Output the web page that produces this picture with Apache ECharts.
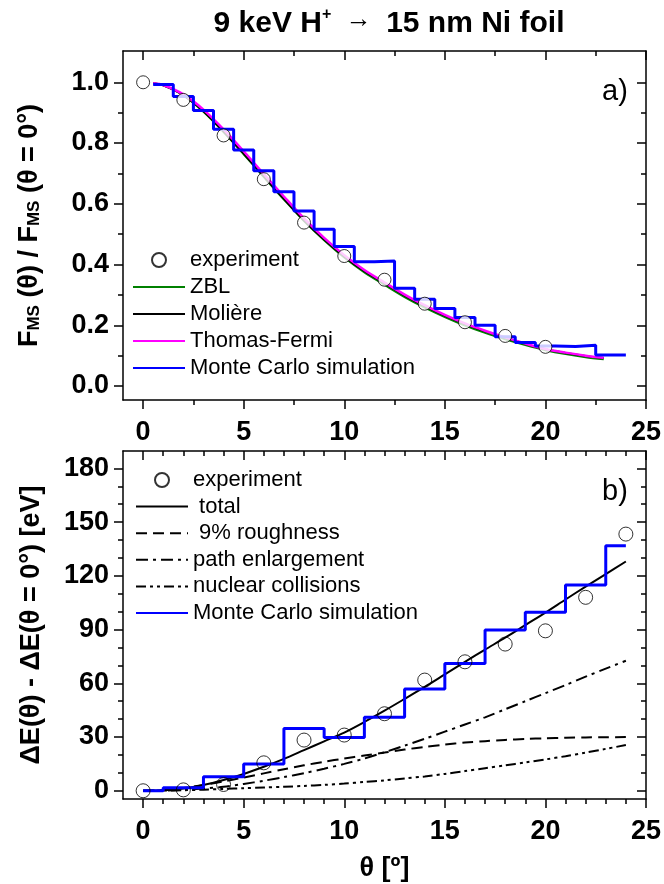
<!DOCTYPE html>
<html>
<head>
<meta charset="utf-8">
<script src="https://cdn.jsdelivr.net/npm/echarts@6/dist/echarts.min.js"></script>
<style>html,body{margin:0;padding:0;background:#fff;}#c{width:664px;height:884px;}</style>
</head>
<body>
<div id="c"></div>
<script>
// ---------- Panel a) data ----------
const thetaExpA = [0, 2, 4, 6, 8, 10, 12, 14, 16, 18, 20];
const fmsExp = [1.0, 0.942, 0.825, 0.681, 0.538, 0.428, 0.350, 0.271, 0.210, 0.165, 0.129];
const thetaCurveA = [0.5, 1, 2, 3, 4, 5, 6, 7, 8, 9, 10, 11, 12, 13, 14, 15, 16, 17, 18, 19, 20, 21, 22, 22.9];
const fmsZBL = [0.997, 0.990, 0.957, 0.903, 0.836, 0.763, 0.688, 0.614, 0.543, 0.480, 0.423, 0.374, 0.333, 0.293, 0.258, 0.227, 0.199, 0.175, 0.154, 0.135, 0.118, 0.105, 0.095, 0.088];
const fmsMoliere = [0.997, 0.990, 0.958, 0.905, 0.838, 0.765, 0.690, 0.616, 0.545, 0.482, 0.426, 0.378, 0.338, 0.298, 0.263, 0.232, 0.204, 0.180, 0.159, 0.139, 0.121, 0.109, 0.099, 0.092];
const fmsTF = [0.997, 0.991, 0.960, 0.910, 0.845, 0.773, 0.698, 0.624, 0.552, 0.488, 0.431, 0.382, 0.341, 0.301, 0.266, 0.234, 0.206, 0.182, 0.160, 0.140, 0.122, 0.110, 0.100, 0.093];
const mcEdgesA = [0.5, 1.5, 2.5, 3.5, 4.5, 5.5, 6.5, 7.5, 8.5, 9.5, 10.5, 11.5, 12.5, 13.5, 14.5, 15.5, 16.5, 17.5, 18.5, 19.5, 20.5, 21.5, 22.5, 24];
const mcValuesA = [0.993, 0.953, 0.907, 0.845, 0.777, 0.709, 0.640, 0.576, 0.516, 0.459, 0.409, 0.412, 0.322, 0.286, 0.255, 0.226, 0.200, 0.162, 0.143, 0.132, 0.130, 0.134, 0.102];

// ---------- Panel b) data ----------
const thetaExpB = [0, 2, 4, 6, 8, 10, 12, 14, 16, 18, 20, 22, 24];
const dEexp = [0, 0.5, 3.5, 15.6, 28.3, 31.1, 43.0, 61.8, 72.0, 81.9, 89.3, 108.0, 143.3];
const thetaCurveB = [0, 1, 2, 3, 4, 5, 6, 7, 8, 9, 10, 11, 12, 13, 14, 15, 16, 17, 18, 19, 20, 21, 22, 23, 24];
const dEtotal = [0, 0.3, 1.3, 3.2, 6.0, 9.4, 13.4, 17.8, 22.7, 27.6, 32.5, 38.4, 44.7, 51.3, 58.0, 65.0, 72.0, 78.8, 85.5, 92.5, 99.5, 106.8, 114.0, 121.0, 128.0];
const dEroughness = [0, 0.4, 1.5, 3.2, 5.2, 7.4, 9.7, 12.0, 14.2, 16.2, 18.0, 19.7, 21.3, 23.0, 24.5, 25.8, 26.9, 27.7, 28.4, 28.9, 29.3, 29.6, 29.8, 29.9, 30.0];
const dEpath = [0, 0.1, 0.5, 1.2, 2.2, 3.8, 5.6, 7.6, 9.8, 12.3, 15.0, 18.0, 21.5, 25.2, 29.0, 33.0, 37.0, 41.0, 45.5, 50.0, 54.5, 59.0, 63.7, 68.2, 72.6];
const dEnuclear = [0, 0.1, 0.3, 0.6, 1.0, 1.4, 1.8, 2.2, 2.7, 3.3, 4.0, 4.9, 5.8, 6.9, 8.0, 9.4, 11.0, 12.6, 14.2, 15.8, 17.5, 19.3, 21.3, 23.4, 25.5];
const mcEdgesB = [0, 1, 3, 5, 7, 9, 11, 13, 15, 17, 19, 21, 23, 24];
const mcValuesB = [0, 1.7, 7.8, 14.9, 34.8, 29.8, 41.0, 56.8, 71.1, 89.7, 99.6, 114.9, 136.8];

// ---------- Tick values ----------
const xMajor = [0, 5, 10, 15, 20, 25];
const xMinorA = [2.5, 7.5, 12.5, 17.5, 22.5];
const xMinorB = [1, 2, 3, 4, 6, 7, 8, 9, 11, 12, 13, 14, 16, 17, 18, 19, 21, 22, 23, 24];
const yMajorA = [0, 0.2, 0.4, 0.6, 0.8, 1.0];
const yMinorA = [0.1, 0.3, 0.5, 0.7, 0.9];
const yMajorB = [0, 30, 60, 90, 120, 150, 180];
const yMinorB = [10, 20, 40, 50, 70, 80, 100, 110, 130, 140, 160, 170];

const FONT = "'Liberation Sans', Arial, sans-serif";
const pairs = (xs, ys) => ys.map((y, i) => [xs[i], y]);
const stairs = (edges, vals) => {
  const d = vals.map((v, i) => [edges[i], v]);
  d.push([edges[edges.length - 1], vals[vals.length - 1]]);
  return d;
};

function xAxes(grid, minor, extra) {
  const base = {gridIndex: grid, type: 'value', min: -1, max: 25, splitLine: {show: false}};
  const line = {show: true, onZero: false, lineStyle: {color: '#000', width: 1.5}};
  return [
    Object.assign({}, base, {position: 'bottom', axisLine: line,
      axisTick: {show: true, inside: false, length: 9, customValues: xMajor, lineStyle: {color: '#000', width: 1.5}},
      axisLabel: {show: true, customValues: xMajor, margin: 19, color: '#000', fontSize: 27, fontWeight: 'bold', fontFamily: FONT}}, extra || {}),
    Object.assign({}, base, {position: 'bottom', axisLine: {show: false, onZero: false},
      axisTick: {show: true, inside: false, length: 5, customValues: minor, lineStyle: {color: '#000', width: 1.5}},
      axisLabel: {show: false}}),
    Object.assign({}, base, {position: 'top', axisLine: line,
      axisTick: {show: true, inside: true, length: 9, customValues: xMajor, lineStyle: {color: '#000', width: 1.5}},
      axisLabel: {show: false}}),
    Object.assign({}, base, {position: 'top', axisLine: {show: false, onZero: false},
      axisTick: {show: true, inside: true, length: 5, customValues: minor, lineStyle: {color: '#000', width: 1.5}},
      axisLabel: {show: false}})
  ];
}
function yAxes(grid, min, max, major, minor, fmt, extra) {
  const base = {gridIndex: grid, type: 'value', min: min, max: max, splitLine: {show: false}};
  const line = {show: true, onZero: false, lineStyle: {color: '#000', width: 1.5}};
  return [
    Object.assign({}, base, {position: 'left', axisLine: line,
      axisTick: {show: true, inside: false, length: 9, customValues: major, lineStyle: {color: '#000', width: 1.5}},
      axisLabel: {show: true, customValues: major, formatter: fmt, margin: 14, color: '#000', fontSize: 27, fontWeight: 'bold', fontFamily: FONT}}, extra),
    Object.assign({}, base, {position: 'left', axisLine: {show: false, onZero: false},
      axisTick: {show: true, inside: false, length: 5, customValues: minor, lineStyle: {color: '#000', width: 1.5}},
      axisLabel: {show: false}}),
    Object.assign({}, base, {position: 'right', axisLine: line,
      axisTick: {show: true, inside: true, length: 9, customValues: major, lineStyle: {color: '#000', width: 1.5}},
      axisLabel: {show: false}}),
    Object.assign({}, base, {position: 'right', axisLine: {show: false, onZero: false},
      axisTick: {show: true, inside: true, length: 5, customValues: minor, lineStyle: {color: '#000', width: 1.5}},
      axisLabel: {show: false}})
  ];
}

const titleRich = {
  t: {fontSize: 30, fontWeight: 'bold', fontFamily: FONT, color: '#000', lineHeight: 32, verticalAlign: 'bottom'},
  sup: {fontSize: 16, fontWeight: 'bold', fontFamily: FONT, color: '#000', lineHeight: 16, verticalAlign: 'top'},
  ar: {fontSize: 26, fontFamily: FONT, color: '#000', lineHeight: 24, verticalAlign: 'top'}
};
const nameRich = {
  b: {fontSize: 27, fontWeight: 'bold', fontFamily: FONT, color: '#000', lineHeight: 30, verticalAlign: 'bottom'},
  s: {fontSize: 17, fontWeight: 'bold', fontFamily: FONT, color: '#000', lineHeight: 17, verticalAlign: 'bottom'}
};

const yA = yAxes(0, -0.046, 1.103, yMajorA, yMinorA, v => Number(v).toFixed(1), {
  name: '{b|F}{s|MS}{b| (θ) / F}{s|MS}{b| (θ = 0°)}', nameLocation: 'middle', nameRotate: 90, nameGap: 80,
  nameTextStyle: {rich: nameRich}
});
const yB = yAxes(1, -4.6, 189.7, yMajorB, yMinorB, v => String(v), {
  name: 'ΔE(θ) - ΔE(θ = 0°) [eV]', nameLocation: 'middle', nameRotate: 90, nameGap: 78,
  nameTextStyle: {fontSize: 27, fontWeight: 'bold', fontFamily: FONT, color: '#000'}
});
const xA = xAxes(0, xMinorA);
const xB = xAxes(1, xMinorB, {name: 'θ [º]', nameLocation: 'middle', nameGap: 56,
  nameTextStyle: {fontSize: 27, fontWeight: 'bold', fontFamily: FONT, color: '#000'}});

const lineS = (name, x, y, xi, color, width, type, z) => ({
  name: name, type: 'line', xAxisIndex: xi, yAxisIndex: xi, data: pairs(x, y), showSymbol: false, symbol: 'none',
  smooth: 0.3, lineStyle: {color: color, width: width, type: type}, itemStyle: {color: color}, z: z || 2
});
const noDot = name => ({name: name, itemStyle: {opacity: 0}});

const option = {
  animation: false,
  backgroundColor: '#fff',
  title: [
    {text: '{t|9 keV H}{sup|+}{ar|  →  }{t|15 nm Ni foil}', left: 384, top: 2, textAlign: 'center', textStyle: {rich: titleRich}},
    {text: 'a)', left: 597, top: 72, textStyle: {fontSize: 29, fontWeight: 'normal', fontFamily: FONT, color: '#000'}},
    {text: 'b)', left: 597, top: 472, textStyle: {fontSize: 29, fontWeight: 'normal', fontFamily: FONT, color: '#000'}}
  ],
  grid: [
    {left: 123, top: 51, width: 524, height: 349},
    {left: 123, top: 451, width: 524, height: 348}
  ],
  xAxis: xA.concat(xB),
  yAxis: yA.concat(yB),
  legend: [
    {orient: 'vertical', left: 132, top: 249, padding: 0, itemWidth: 52, itemHeight: 14, itemGap: 5,
      data: ['experiment', noDot('ZBL'), noDot('Molière'), noDot('Thomas-Fermi'), noDot('Monte Carlo simulation')],
      textStyle: {fontSize: 22, fontFamily: FONT, color: '#000', lineHeight: 22}, selectedMode: false},
    {orient: 'vertical', left: 135, top: 469, padding: 0, itemWidth: 52, itemHeight: 14, itemGap: 4.6,
      data: ['experiment ', noDot(' total'), noDot(' 9% roughness'), noDot('path enlargement'), noDot('nuclear collisions'), noDot('Monte Carlo simulation ')],
      textStyle: {fontSize: 22, fontFamily: FONT, color: '#000', lineHeight: 22}, selectedMode: false}
  ],
  series: [
    lineS('ZBL', thetaCurveA, fmsZBL, 0, '#008000', 2),
    lineS('Molière', thetaCurveA, fmsMoliere, 0, '#000000', 2),
    lineS('Thomas-Fermi', thetaCurveA, fmsTF, 0, '#ff00ff', 2.5),
    {name: 'Monte Carlo simulation', type: 'line', xAxisIndex: 0, yAxisIndex: 0, step: 'end', data: stairs(mcEdgesA, mcValuesA),
      showSymbol: false, symbol: 'none', lineStyle: {color: '#0000ff', width: 3}, itemStyle: {color: '#0000ff'}, z: 3},
    {name: 'experiment', type: 'scatter', xAxisIndex: 0, yAxisIndex: 0, data: pairs(thetaExpA, fmsExp), symbol: 'circle', symbolSize: 13,
      itemStyle: {color: '#ffffff', borderColor: '#000', borderWidth: 1}, z: 5},

    lineS(' total', thetaCurveB, dEtotal, 4, '#000000', 2),
    lineS(' 9% roughness', thetaCurveB, dEroughness, 4, '#000000', 2, [11, 6]),
    lineS('path enlargement', thetaCurveB, dEpath, 4, '#000000', 2, [12, 5, 3, 5]),
    lineS('nuclear collisions', thetaCurveB, dEnuclear, 4, '#000000', 2, [10, 4, 3, 4, 3, 4]),
    {name: 'Monte Carlo simulation ', type: 'line', xAxisIndex: 4, yAxisIndex: 4, step: 'end', data: stairs(mcEdgesB, mcValuesB),
      showSymbol: false, symbol: 'none', lineStyle: {color: '#0000ff', width: 3}, itemStyle: {color: '#0000ff'}, z: 3},
    {name: 'experiment ', type: 'scatter', xAxisIndex: 4, yAxisIndex: 4, data: pairs(thetaExpB, dEexp), symbol: 'circle', symbolSize: 14,
      itemStyle: {color: 'rgba(255,255,255,0)', borderColor: '#000', borderWidth: 1}, z: 5}
  ]
};
const chart = echarts.init(document.getElementById('c'), null, {renderer: 'canvas'});
chart.setOption(option);
</script>
</body>
</html>
